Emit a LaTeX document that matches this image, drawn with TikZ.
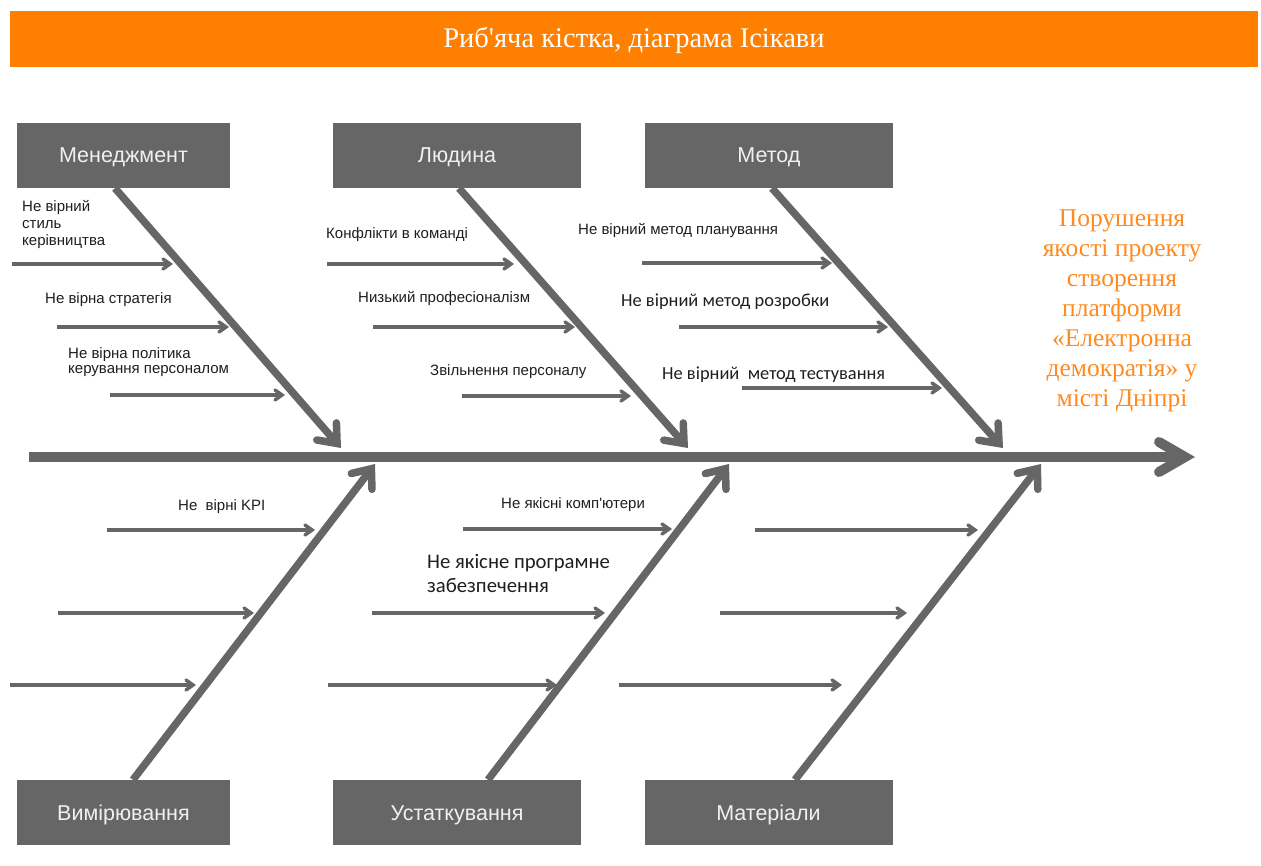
\documentclass[tikz,border=0pt]{standalone}
\usepackage{fontspec}
\setmainfont{Liberation Serif}[Ligatures=TeXOff]
\setsansfont{Liberation Sans}[Ligatures=TeXOff]
\newfontfamily\calfont{Carlito}[Ligatures=TeXOff]
\usetikzlibrary{arrows.meta}
\definecolor{bonegray}{HTML}{666666}
\definecolor{titleorange}{HTML}{FF8000}
\definecolor{effectorange}{HTML}{FF8A1F}
\definecolor{labelink}{HTML}{1E1E1E}

\begin{document}
\begin{tikzpicture}[x=1pt,y=-1pt,
  catbox/.style={fill=bonegray, minimum height=65pt, inner sep=0pt,
    text height=15pt, text depth=0pt,
    text=white!94!black, font=\sffamily\fontsize{21.5}{25}\selectfont},
  spine/.style={draw=bonegray, line width=10pt,
    -{Straight Barb[length=26pt,width=30pt,line cap=round]}},
  bone/.style={draw=bonegray, line width=7.5pt,
    -{Straight Barb[length=16pt,width=26pt,line cap=round]}},
  twig/.style={draw=bonegray, line width=3.5pt,
    -{Straight Barb[length=7pt,width=10pt,line cap=round]}},
  cause/.style={anchor=base west, inner sep=0pt, align=left, text=labelink,
    font=\sffamily\fontsize{15}{17}\selectfont},
  causewide/.style={cause, font=\calfont\fontsize{18.4}{22}\selectfont},
]
\path[use as bounding box] (0,0) rectangle (1261,866);

% title bar
\fill[titleorange] (10,11) rectangle (1258,67);
\node[text=white, font=\rmfamily\fontsize{28.5}{32}\selectfont] (title) at (634,40)
  {Риб'яча кістка, діаграма Ісікави};

% category boxes
\node[catbox, minimum width=213pt] (man) at (123.5,155.5) {Менеджмент};
\node[catbox, minimum width=248pt] (hum) at (457,155.5) {Людина};
\node[catbox, minimum width=248pt] (met) at (769,155.5) {Метод};
\node[catbox, minimum width=213pt] (mea) at (123.5,812.5) {Вимірювання};
\node[catbox, minimum width=248pt] (equ) at (457,812.5) {Устаткування};
\node[catbox, minimum width=248pt] (mat) at (768.5,812.5) {Матеріали};

% effect
\node[text=effectorange, align=center, font=\rmfamily\fontsize{25.5}{30}\selectfont]
  (effect) at (1122,311)
  {Порушення\\якості проекту\\створення\\платформи\\«Електронна\\демократія» у\\місті Дніпрі};

% spine
\coordinate (spL) at (29,457);
\coordinate (spR) at (1195,457);
\draw[spine] (spL) -- (spR);

% bone ends on the spine
\coordinate (manTip) at (341,448);
\coordinate (humTip) at (688,448);
\coordinate (metTip) at (1003,448);
\coordinate (meaTip) at (375,464);
\coordinate (equTip) at (729,464);
\coordinate (matTip) at (1041,464);

\draw[bone] ([xshift=-8.5pt]man.south) -- (manTip);
\draw[bone] ([xshift=2pt]hum.south) -- (humTip);
\draw[bone] ([xshift=3pt]met.south) -- (metTip);
\draw[bone] ([xshift=9.5pt]mea.north) -- (meaTip);
\draw[bone] ([xshift=31pt]equ.north) -- (equTip);
\draw[bone] ([xshift=26.5pt]mat.north) -- (matTip);

% twigs: Менеджмент
\coordinate (m1a) at (12,264);  \coordinate (m1b) at (173,264);
\coordinate (m2a) at (57,327);  \coordinate (m2b) at (229,327);
\coordinate (m3a) at (110,395); \coordinate (m3b) at (285,395);
\draw[twig] (m1a) -- (m1b);
\draw[twig] (m2a) -- (m2b);
\draw[twig] (m3a) -- (m3b);
\node[cause] (m1t) at (22,246) {Не вірний\\стиль\\керівництва};
\node[cause] (m2t) at (45,304) {Не вірна стратегія};
\node[cause, font=\sffamily\fontsize{15}{16}\selectfont] (m3t) at (68,374)
  {Не вірна політика\\керування персоналом};

% twigs: Людина
\coordinate (h1a) at (327,264); \coordinate (h1b) at (514,264);
\coordinate (h2a) at (373,327); \coordinate (h2b) at (575,327);
\coordinate (h3a) at (462,396); \coordinate (h3b) at (631,396);
\draw[twig] (h1a) -- (h1b);
\draw[twig] (h2a) -- (h2b);
\draw[twig] (h3a) -- (h3b);
\node[cause] (h1t) at (326,239) {Конфлікти в команді};
\node[cause] (h2t) at (358,303) {Низький професіоналізм};
\node[cause] (h3t) at (430,376) {Звільнення персоналу};

% twigs: Метод
\coordinate (t1a) at (642,263); \coordinate (t1b) at (832,263);
\coordinate (t2a) at (679,327); \coordinate (t2b) at (888,327);
\coordinate (t3a) at (742,388); \coordinate (t3b) at (942,388);
\draw[twig] (t1a) -- (t1b);
\draw[twig] (t2a) -- (t2b);
\draw[twig] (t3a) -- (t3b);
\node[cause] (t1t) at (578,235) {Не вірний метод планування};
\node[causewide] (t2t) at (621,307) {Не вірний метод розробки};
\node[causewide] (t3t) at (662,380) {Не вірний\ \ метод тестування};

% twigs: Вимірювання
\coordinate (v1a) at (107,530); \coordinate (v1b) at (315,530);
\coordinate (v2a) at (58,613);  \coordinate (v2b) at (254,613);
\coordinate (v3a) at (10,685);  \coordinate (v3b) at (196,685);
\draw[twig] (v1a) -- (v1b);
\draw[twig] (v2a) -- (v2b);
\draw[twig] (v3a) -- (v3b);
\node[cause] (v1t) at (178,510) {Не\ \ вірні KPI};

% twigs: Устаткування
\coordinate (e1a) at (463,529); \coordinate (e1b) at (672,529);
\coordinate (e2a) at (372,613); \coordinate (e2b) at (605,613);
\coordinate (e3a) at (328,685); \coordinate (e3b) at (557,685);
\draw[twig] (e1a) -- (e1b);
\draw[twig] (e2a) -- (e2b);
\draw[twig] (e3a) -- (e3b);
\node[cause] (e1t) at (501,508) {Не якісні комп'ютери};
\node[cause, font=\calfont\fontsize{20.7}{24}\selectfont] (e2t) at (427,592)
  {Не якісне програмне\\забезпечення};

% twigs: Матеріали
\coordinate (r1a) at (755,530); \coordinate (r1b) at (978,530);
\coordinate (r2a) at (720,613); \coordinate (r2b) at (907,613);
\coordinate (r3a) at (619,685); \coordinate (r3b) at (842,685);
\draw[twig] (r1a) -- (r1b);
\draw[twig] (r2a) -- (r2b);
\draw[twig] (r3a) -- (r3b);
\end{tikzpicture}
\end{document}
